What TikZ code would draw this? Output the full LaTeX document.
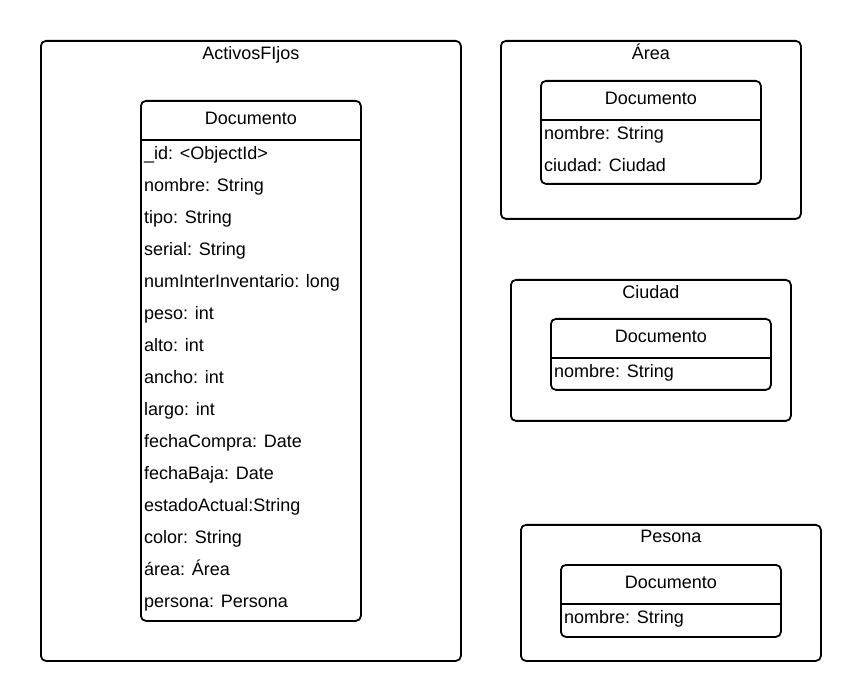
\documentclass[tikz,border=0pt]{standalone}
\usepackage{fontspec}
\setmainfont{Liberation Sans}
\usetikzlibrary{positioning}

\tikzset{
	caja/.style={draw, line width=1.8pt, rounded corners=5pt, anchor=north west, inner sep=0pt},
	titulo/.style={font=\fontsize{18}{20}\selectfont, inner sep=0pt, text height=12.5pt, text depth=3.5pt},
	campo/.style={font=\fontsize{18}{20}\selectfont, anchor=west, inner sep=0pt, text height=12.5pt, text depth=3.5pt},
	linea/.style={line width=1.8pt}
}

\begin{document}
\begin{tikzpicture}[x=1pt,y=-1pt]
	\useasboundingbox (0,0) rectangle (860,700);
	% contenedores
	\node[caja, minimum width=420pt, minimum height=620pt] (activos) at (40,40) {};
	\node[caja, minimum width=300pt, minimum height=178pt] (area) at (500,40) {};
	\node[caja, minimum width=280pt, minimum height=141pt] (ciudad) at (510,279) {};
	\node[caja, minimum width=300pt, minimum height=136pt] (persona) at (520,524) {};
	\node[titulo] (tActivos) at ([yshift=-15pt]activos.north) {ActivosFIjos};
	\node[titulo] (tArea) at ([yshift=-15pt]area.north) {Área};
	\node[titulo] (tCiudad) at ([yshift=-15pt]ciudad.north) {Ciudad};
	\node[titulo] (tPersona) at ([yshift=-14pt]persona.north) {Pesona};
	% documentos
	\node[caja, minimum width=220pt, minimum height=520pt] (docActivos) at (140,100) {};
	\node[caja, minimum width=220pt, minimum height=103pt] (docArea) at (540,80) {};
	\node[caja, minimum width=220pt, minimum height=71pt] (docCiudad) at (550,318) {};
	\node[caja, minimum width=220pt, minimum height=72pt] (docPersona) at (560,564) {};
	\foreach \d in {docActivos,docArea,docCiudad,docPersona}{
		\node[titulo] (h\d) at ([yshift=-20pt]\d.north) {Documento};
		\draw[linea] ([yshift=-40pt]\d.north west) -- ([yshift=-40pt]\d.north east);}
	% campos
	\foreach \c [count=\i from 0] in {\_id: <ObjectId>,nombre: String,tipo: String,serial: String,numInterInventario: long,peso: int,alto: int,ancho: int,largo: int,fechaCompra: Date,fechaBaja: Date,estadoActual:String,color: String,área: Área,persona: Persona}{
		\node[campo] (fA\i) at ([xshift=4pt,yshift={-(55+32*\i)*1pt}]docActivos.north west) {\c};}
	\foreach \c [count=\i from 0] in {nombre: String,ciudad: Ciudad}{
		\node[campo] (fB\i) at ([xshift=4pt,yshift={-(55+32*\i)*1pt}]docArea.north west) {\c};}
	\node[campo] (fC0) at ([xshift=4pt,yshift=-55pt]docCiudad.north west) {nombre: String};
	\node[campo] (fD0) at ([xshift=4pt,yshift=-55pt]docPersona.north west) {nombre: String};
\end{tikzpicture}
\end{document}
